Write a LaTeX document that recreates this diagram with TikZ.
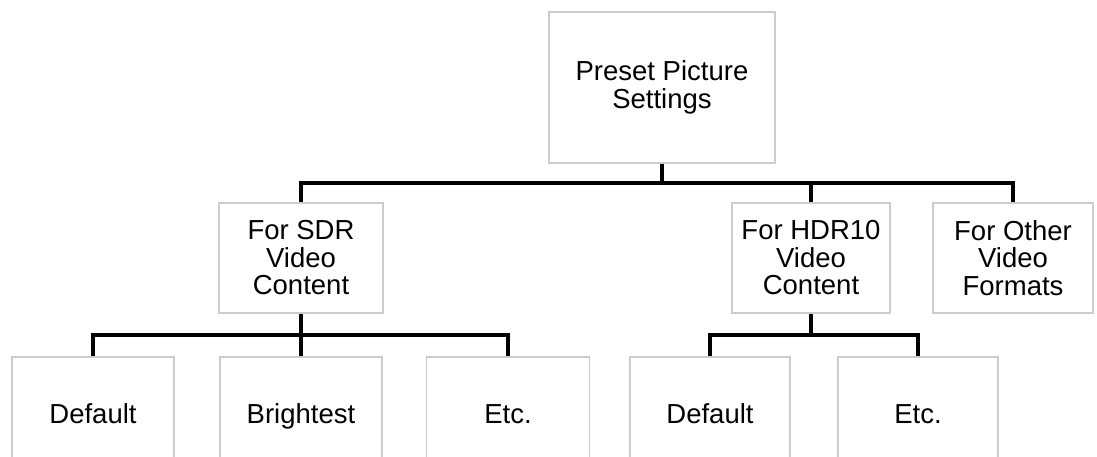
\documentclass[tikz,border=0pt]{standalone}
\usepackage{fontspec}
\setmainfont{Liberation Sans}
\usetikzlibrary{positioning}
\begin{document}
\begin{tikzpicture}[x=1pt,y=-1pt,
        box/.style={draw=gray!40,line width=1.6pt,fill=white,
            align=center,inner sep=0pt,minimum height=110pt,
            font=\fontsize{27.5}{27.5}\selectfont},
        leaf/.style={box,minimum height=118pt,text height=20pt,text depth=6pt},
        wire/.style={line width=4pt,black,line join=miter}]
        \useasboundingbox (0,0) rectangle (1097,456);
        \clip (0,0) rectangle (1097,456);
        \fill[white] (0,0) rectangle (1097,456);
        %% top level
        \node[box,minimum width=226pt,minimum height=151pt] (top) at (662,87.5) {Preset Picture\\Settings};
        %% second level
        \node[box,minimum width=164pt] (sdr) at (301,258) {For SDR\\Video\\Content};
        \node[box,minimum width=158pt] (hdr) at (811,258) {For HDR10\\Video\\Content};
        \node[box,minimum width=160pt] (other) at (1013,258) {For Other\\Video\\Formats};
        %% third level
        \node[leaf,minimum width=162pt] (sdrdef) at (93,416) {Default};
        \node[leaf,minimum width=162pt] (sdrbright) at (301,416) {Brightest};
        \node[leaf,minimum width=163pt] (sdretc) at (508,416) {Etc.};
        \node[leaf,minimum width=160pt] (hdrdef) at (710,416) {Default};
        \node[leaf,minimum width=160pt] (hdretc) at (918,416) {Etc.};
        %% connectors
        \coordinate (topbus) at (662,183);
        \coordinate (sdrbus) at (301,335);
        \coordinate (hdrbus) at (811,335);
        \draw[wire] (top.south) -- (topbus);
        \draw[wire] (sdr.north) |- (topbus) -| (other.north);
        \draw[wire] (hdr.north) |- (topbus);
        \draw[wire] (sdr.south) -- (sdrbright.north);
        \draw[wire] (sdrdef.north) |- (sdrbus) -| (sdretc.north);
        \draw[wire] (hdr.south) -- (hdrbus);
        \draw[wire] (hdrdef.north) |- (hdrbus) -| (hdretc.north);
    \end{tikzpicture}
\end{document}
